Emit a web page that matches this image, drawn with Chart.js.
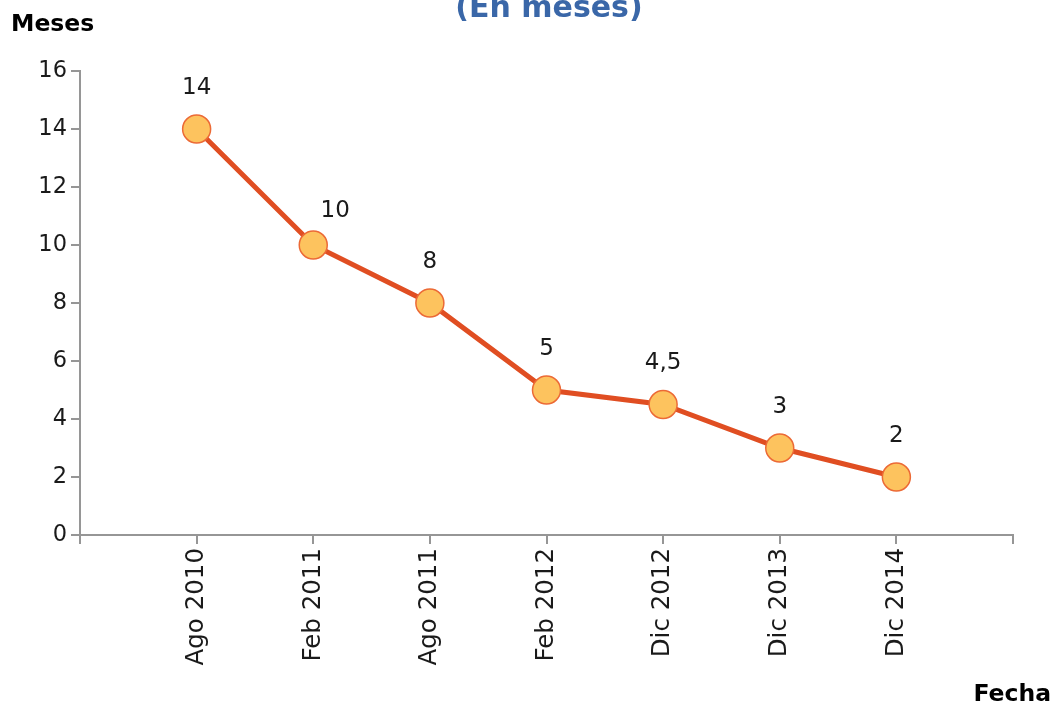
<!DOCTYPE html>
<html>
<head>
<meta charset="utf-8">
<script src="https://cdn.jsdelivr.net/npm/chart.js@4/dist/chart.umd.min.js"></script>
<style>
  html, body { margin: 0; padding: 0; background: #fff; }
  #wrap { width: 1055px; height: 706px; position: relative; }
</style>
</head>
<body>
<div id="wrap"><canvas id="grafico"></canvas></div>
<script>
// Datos del grafico
const fechas = ['Ago 2010', 'Feb 2011', 'Ago 2011', 'Feb 2012', 'Dic 2012', 'Dic 2013', 'Dic 2014'];
const meses = [14, 10, 8, 5, 4.5, 3, 2];
const yTicks = [0, 2, 4, 6, 8, 10, 12, 14, 16];

const FUENTE = '"DejaVu Sans", Verdana, sans-serif';
const GRIS = '#969696';

// el eje tiene un hueco a cada lado, como en el original
const etiquetas = [''].concat(fechas, ['']);
const valores = [null].concat(meses, [null]);

// textos fijos y etiquetas de datos
const textosPlugin = {
    id: 'textos',
    afterDatasetsDraw(chart) {
        const ctx = chart.ctx;
        const meta = chart.getDatasetMeta(0);
        ctx.save();
        ctx.fillStyle = '#1a1a1a';
        ctx.font = '23px ' + FUENTE;
        ctx.textAlign = 'center';
        ctx.textBaseline = 'middle';
        meta.data.forEach((pt, i) => {
            const v = valores[i];
            if (v === null) return;
            const dx = i === 2 ? 22 : 0; // "10" va desplazado a la derecha
            const dy = i === 2 ? 34 : 41;
            ctx.fillText(String(v).replace('.', ','), pt.x + dx, pt.y - dy);
        });

        ctx.textBaseline = 'alphabetic';
        ctx.font = 'bold 23.5px ' + FUENTE;
        ctx.fillStyle = '#000';
        ctx.textAlign = 'left';
        ctx.fillText('Meses', 11, 31);
        ctx.textAlign = 'right';
        ctx.fillText('Fecha', 1051, 701);

        ctx.fillStyle = '#3a67a8';
        ctx.font = 'bold 30px ' + FUENTE;
        ctx.textAlign = 'center';
        ctx.fillText('(En meses)', 549, 17);
        ctx.restore();
    }
};

new Chart(document.getElementById('grafico'), {
    type: 'line',
    data: {
        labels: etiquetas,
        datasets: [{
            data: valores,
            borderColor: '#e04e22',
            borderWidth: 5,
            pointBackgroundColor: '#fdc35e',
            pointBorderColor: '#ec6a36',
            pointBorderWidth: 1.5,
            pointRadius: 14,
            tension: 0
        }]
    },
    options: {
        responsive: true,
        maintainAspectRatio: false,
        animation: false,
        layout: { padding: { top: 71, right: 42, left: 0, bottom: 0 } },
        plugins: {
            legend: { display: false },
            tooltip: { enabled: false }
        },
        scales: {
            x: {
                offset: false,
                afterFit: (s) => { s.height = 171; },
                border: { color: GRIS, width: 2 },
                grid: { drawOnChartArea: false, color: GRIS, lineWidth: 2, tickLength: 9 },
                ticks: {
                    autoSkip: false,
                    maxRotation: 90,
                    minRotation: 90,
                    padding: 4,
                    color: '#1a1a1a',
                    font: { family: FUENTE, size: 24.5 }
                }
            },
            y: {
                min: 0,
                max: 16,
                afterFit: (s) => { s.width = 80; },
                afterBuildTicks: (s) => { s.ticks = yTicks.map(v => ({ value: v })); },
                border: { color: GRIS, width: 2 },
                grid: { drawOnChartArea: false, color: GRIS, lineWidth: 2, tickLength: 9 },
                ticks: {
                    padding: 4,
                    color: '#1a1a1a',
                    font: { family: FUENTE, size: 22.5 }
                }
            }
        }
    },
    plugins: [textosPlugin]
});
</script>
</body>
</html>
